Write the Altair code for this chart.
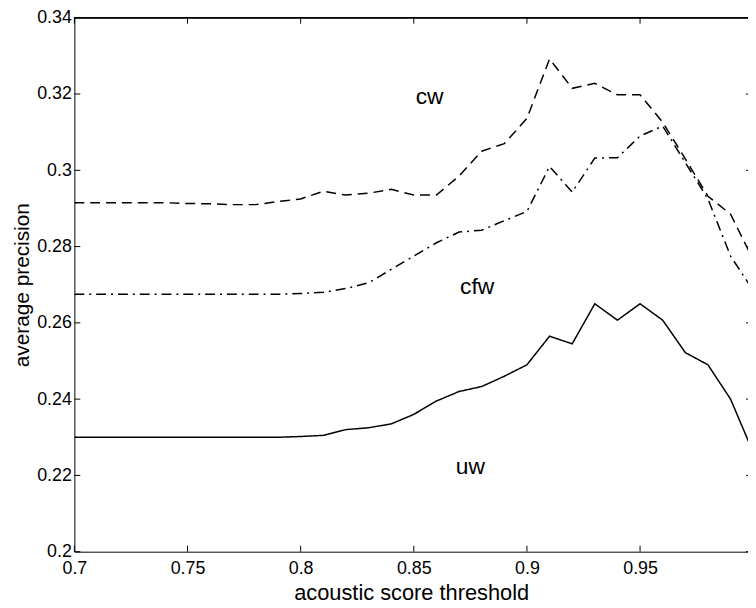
import altair as alt
import pandas as pd

# ---- data ----
thresholds = [0.70, 0.71, 0.72, 0.73, 0.74, 0.75, 0.76, 0.77, 0.78, 0.79, 0.80,
              0.81, 0.82, 0.83, 0.84, 0.85, 0.86, 0.87, 0.88, 0.89, 0.90,
              0.91, 0.92, 0.93, 0.94, 0.95, 0.96, 0.97, 0.98, 0.99, 1.00]

cw = [0.2915, 0.2915, 0.2915, 0.2915, 0.2915, 0.2913, 0.2912, 0.2910, 0.2910, 0.2918, 0.2925,
      0.2945, 0.2935, 0.2940, 0.2950, 0.2935, 0.2935, 0.2985, 0.3050, 0.3070, 0.3136,
      0.3292, 0.3215, 0.3228, 0.3198, 0.3198, 0.3126, 0.3030, 0.2932, 0.2885, 0.2765]

cfw = [0.2675, 0.2675, 0.2675, 0.2675, 0.2675, 0.2675, 0.2675, 0.2675, 0.2675, 0.2675, 0.2677,
       0.2680, 0.2690, 0.2705, 0.2740, 0.2775, 0.2810, 0.2838, 0.2843, 0.2868, 0.2892,
       0.3010, 0.2943, 0.3032, 0.3033, 0.3090, 0.3116, 0.3020, 0.2925, 0.2775, 0.2685]

uw = [0.2300, 0.2300, 0.2300, 0.2300, 0.2300, 0.2300, 0.2300, 0.2300, 0.2300, 0.2300, 0.2302,
      0.2305, 0.2320, 0.2325, 0.2335, 0.2360, 0.2395, 0.2420, 0.2433, 0.2460, 0.2490,
      0.2565, 0.2545, 0.2650, 0.2607, 0.2650, 0.2607, 0.2522, 0.2490, 0.2400, 0.2260]

series_names = ["cw", "cfw", "uw"]

label_text = ["cw", "cfw", "uw"]
label_x = [0.857, 0.878, 0.875]
label_y = [0.3192, 0.2693, 0.2222]

x_ticks = [0.70, 0.75, 0.80, 0.85, 0.90, 0.95]
y_ticks = [0.20, 0.22, 0.24, 0.26, 0.28, 0.30, 0.32, 0.34]

# ---- tables ----
rows = []
for name, vals in zip(series_names, [cw, cfw, uw]):
    for t, v in zip(thresholds, vals):
        rows.append({"threshold": t, "precision": v, "series": name})
df = pd.DataFrame(rows)
labels_df = pd.DataFrame({"x": label_x, "y": label_y, "text": label_text})
xt_df = pd.DataFrame({"t": x_ticks})
yt_df = pd.DataFrame({"t": y_ticks})

W, H = 680, 539
FONT = "Liberation Sans"
TL = 6

xscale = alt.Scale(domain=[0.7, 0.9977], nice=False, zero=False)
yscale = alt.Scale(domain=[0.2, 0.34], nice=False, zero=False)

xaxis = alt.Axis(values=x_ticks, format=".2~f", ticks=False, grid=False,
                 domainColor="black", domainWidth=1, labelFlush=False, labelOverlap=False,
                 labelFont=FONT, labelFontSize=18, labelColor="black", labelPadding=8,
                 title="acoustic score threshold", titleFont=FONT, titleFontSize=22,
                 titleFontWeight="normal", titleColor="black", titlePadding=5)
yaxis = alt.Axis(values=y_ticks, format=".2~f", ticks=False, grid=False,
                 domainColor="black", domainWidth=1, labelOverlap=False,
                 labelFont=FONT, labelFontSize=18, labelColor="black", labelPadding=3,
                 title="average precision", titleFont=FONT, titleFontSize=21,
                 titleFontWeight="normal", titleColor="black", titlePadding=4)

lines = alt.Chart(df).mark_line(color="black", strokeWidth=1.5, clip=True).encode(
    x=alt.X("threshold:Q", scale=xscale, axis=xaxis),
    y=alt.Y("precision:Q", scale=yscale, axis=yaxis),
    strokeDash=alt.StrokeDash("series:N",
                              scale=alt.Scale(domain=series_names,
                                              range=[[10, 6], [10, 5, 2, 5], [1, 0]]),
                              legend=None),
    detail="series:N",
)

texts = alt.Chart(labels_df).mark_text(font=FONT, fontSize=23, color="black").encode(
    x=alt.X("x:Q", scale=xscale),
    y=alt.Y("y:Q", scale=yscale),
    text="text:N",
)

top_line = alt.Chart(xt_df).mark_rule(color="black", strokeWidth=1).encode(
    x=alt.value(0), x2=alt.value(W), y=alt.value(0)
)

yt_left = alt.Chart(yt_df).mark_rule(color="black", strokeWidth=1).encode(
    y=alt.Y("t:Q", scale=yscale), x=alt.value(0), x2=alt.value(TL)
)
yt_right = alt.Chart(yt_df).mark_rule(color="black", strokeWidth=1).encode(
    y=alt.Y("t:Q", scale=yscale), x=alt.value(W - 2), x2=alt.value(W)
)
xt_bottom = alt.Chart(xt_df).mark_rule(color="black", strokeWidth=1).encode(
    x=alt.X("t:Q", scale=xscale), y=alt.value(H), y2=alt.value(H - TL)
)
xt_top = alt.Chart(xt_df).mark_rule(color="black", strokeWidth=1).encode(
    x=alt.X("t:Q", scale=xscale), y=alt.value(0), y2=alt.value(TL)
)

chart = alt.layer(lines, texts, top_line, yt_left, yt_right, xt_bottom, xt_top).properties(
    width=W, height=H,
    autosize=alt.AutoSizeParams(type="none"),
    padding={"left": 67, "top": 7, "right": 0, "bottom": 53},
    background="white",
).configure_view(stroke=None)

chart.save("out.html", embed_options={"renderer": "svg", "actions": False})
